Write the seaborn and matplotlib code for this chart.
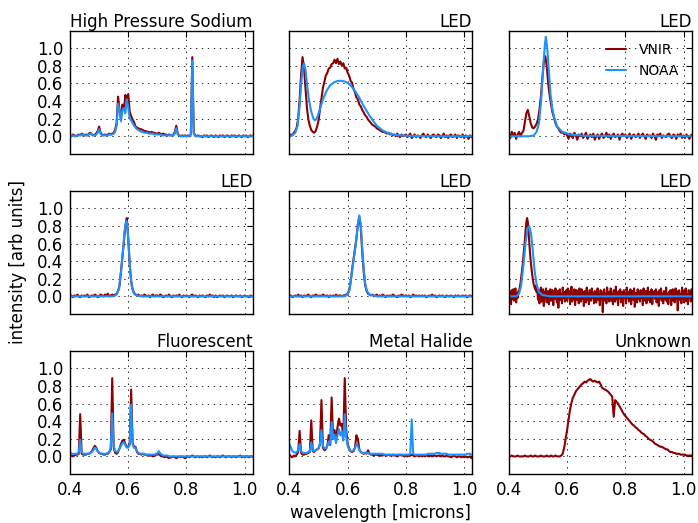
import numpy as np
import matplotlib
matplotlib.use("Agg")
import matplotlib.pyplot as plt
import seaborn as sns

# ---------------------------------------------------------------------------
# Spectra (normalised intensity, arbitrary units)
# VNIR spectra are sampled every 5 nm from 0.400 to 1.030 microns; the noisy
# blue LED (middle right) is kept at its native 2.5 nm sampling.
# ---------------------------------------------------------------------------
wavelength_grid = np.round(np.arange(0.400, 1.0301, 0.005), 3)
fine_grid = np.round(np.arange(0.400, 1.0301, 0.0025), 4)

titles = ["High Pressure Sodium", "LED", "LED",
          "LED", "LED", "LED",
          "Fluorescent", "Metal Halide", "Unknown"]
series_names = ["VNIR", "NOAA"]
x_ticks = [0.4, 0.6, 0.8, 1.0]
y_ticks = [0.0, 0.2, 0.4, 0.6, 0.8, 1.0]

hps_vnir = [
    0.01, 0.00, 0.02, 0.01, 0.00, 0.01, 0.02, 0.01, 0.03, 0.02,
    0.01, 0.02, 0.01, 0.03, 0.04, 0.02, 0.01, 0.02, 0.03, 0.06,
    0.11, 0.04, 0.02, 0.01, 0.02, 0.01, 0.02, 0.03, 0.02, 0.03,
    0.04, 0.07, 0.15, 0.45, 0.30, 0.20, 0.36, 0.30, 0.47, 0.42,
    0.48, 0.28, 0.23, 0.19, 0.16, 0.11, 0.10, 0.09, 0.08, 0.08,
    0.07, 0.06, 0.06, 0.05, 0.05, 0.04, 0.05, 0.04, 0.04, 0.03,
    0.03, 0.04, 0.03, 0.02, 0.03, 0.02, 0.02, 0.01, 0.02, 0.01,
    0.01, 0.02, 0.05, 0.12, 0.03, 0.01, 0.00, 0.01, 0.00, 0.01,
    0.00, 0.01, 0.00, 0.02, 0.90, 0.04, 0.01, 0.00, 0.01, 0.00,
    0.00, -0.01, 0.01, 0.00, 0.01, -0.01, 0.00, 0.01, 0.00, -0.01,
    0.01, 0.00, -0.01, 0.01, 0.00, 0.01, -0.01, 0.00, 0.01, 0.00,
    -0.01, 0.01, 0.00, 0.01, -0.01, 0.00, 0.01, 0.00, -0.01, 0.01,
    0.00, 0.01, -0.01, 0.00, 0.01, 0.00, 0.01,
]
hps_noaa = [
    0.00, 0.00, 0.01, 0.00, 0.00, 0.01, 0.01, 0.01, 0.02, 0.01,
    0.01, 0.01, 0.01, 0.02, 0.03, 0.02, 0.01, 0.01, 0.02, 0.04,
    0.08, 0.03, 0.01, 0.01, 0.01, 0.01, 0.01, 0.02, 0.02, 0.02,
    0.03, 0.05, 0.12, 0.37, 0.30, 0.17, 0.30, 0.32, 0.26, 0.42,
    0.33, 0.20, 0.18, 0.15, 0.12, 0.10, 0.08, 0.07, 0.06, 0.05,
    0.05, 0.04, 0.04, 0.04, 0.03, 0.03, 0.03, 0.03, 0.02, 0.02,
    0.02, 0.02, 0.02, 0.01, 0.01, 0.01, 0.01, 0.01, 0.01, 0.01,
    0.01, 0.01, 0.03, 0.09, 0.02, 0.01, 0.00, 0.00, 0.00, 0.00,
    0.00, 0.00, 0.00, 0.02, 0.86, 0.03, 0.00, 0.00, 0.00, 0.00,
    0.00, 0.00, 0.00, 0.00, 0.00, 0.00, 0.00, 0.00, 0.00, 0.00,
    0.00, 0.00, 0.00, 0.00, 0.00, 0.00, 0.00, 0.00, 0.00, 0.00,
    0.00, 0.00, 0.00, 0.00, 0.00, 0.00, 0.00, 0.00, 0.00, 0.00,
    0.00, 0.00, 0.00, 0.00, 0.00, 0.00, 0.00,
]

led_a_vnir = [
    -0.01, 0.02, 0.01, 0.04, 0.06, 0.10, 0.20, 0.42, 0.70, 0.90,
    0.78, 0.55, 0.33, 0.19, 0.12, 0.07, 0.05, 0.04, 0.06, 0.11,
    0.18, 0.31, 0.43, 0.55, 0.62, 0.69, 0.72, 0.77, 0.78, 0.82,
    0.83, 0.87, 0.83, 0.88, 0.82, 0.85, 0.80, 0.83, 0.77, 0.78,
    0.72, 0.69, 0.63, 0.61, 0.54, 0.50, 0.44, 0.42, 0.36, 0.34,
    0.30, 0.27, 0.24, 0.22, 0.19, 0.17, 0.15, 0.13, 0.12, 0.11,
    0.09, 0.08, 0.07, 0.06, 0.05, 0.05, 0.04, 0.03, 0.04, 0.02,
    0.03, 0.01, 0.02, 0.00, 0.03, 0.01, -0.01, 0.02, 0.00, 0.01,
    0.02, -0.01, 0.01, 0.03, -0.02, 0.00, 0.02, -0.01, 0.01, 0.00,
    -0.02, 0.01, 0.03, 0.00, -0.01, 0.02, 0.00, -0.02, 0.01, 0.02,
    0.00, -0.01, 0.02, 0.01, -0.02, 0.00, 0.03, -0.01, 0.01, -0.02,
    0.01, 0.02, -0.01, 0.00, 0.02, -0.02, 0.01, 0.00, -0.01, 0.02,
    -0.02, 0.01, 0.00, -0.03, 0.01, -0.01, 0.00,
]
led_a_noaa_wl = [0.400, 0.410, 0.420, 0.428, 0.435, 0.441, 0.446, 0.450, 0.455, 0.460,
                 0.466, 0.474, 0.482, 0.488, 0.495, 0.505, 0.515, 0.528, 0.540, 0.552,
                 0.566, 0.580, 0.592, 0.603, 0.615, 0.626, 0.638, 0.649, 0.661, 0.672,
                 0.684, 0.700, 0.718, 0.736, 0.760, 0.800, 0.900, 1.030]
led_a_noaa = [0.00, 0.01, 0.04, 0.12, 0.35, 0.62, 0.79, 0.83, 0.76, 0.60,
              0.44, 0.29, 0.20, 0.18, 0.21, 0.31, 0.42, 0.52, 0.58, 0.61,
              0.63, 0.63, 0.62, 0.60, 0.56, 0.51, 0.45, 0.38, 0.31, 0.25,
              0.19, 0.12, 0.07, 0.04, 0.015, 0.005, 0.00, 0.00]

led_b_vnir = [
    0.03, -0.02, 0.05, 0.01, 0.04, -0.03, 0.02, 0.05, 0.00, 0.04,
    0.06, 0.16, 0.26, 0.30, 0.23, 0.15, 0.10, 0.09, 0.11, 0.14,
    0.19, 0.30, 0.45, 0.66, 0.84, 0.91, 0.80, 0.60, 0.47, 0.36,
    0.27, 0.21, 0.15, 0.11, 0.09, 0.06, 0.04, 0.05, 0.02, 0.04,
    0.01, -0.03, 0.03, 0.00, -0.02, 0.04, 0.01, -0.04, 0.02, 0.00,
    0.03, -0.02, 0.01, 0.04, -0.03, 0.00, 0.02, -0.01, 0.03, -0.04,
    0.00, 0.02, -0.03, 0.01, 0.03, -0.02, 0.00, 0.04, -0.01, 0.02,
    -0.03, 0.01, 0.03, -0.01, 0.00, 0.02, -0.04, 0.01, 0.03, 0.00,
    0.02, -0.02, 0.00, 0.03, -0.03, 0.01, 0.02, -0.01, 0.00, 0.03,
    -0.02, 0.01, 0.03, 0.00, -0.03, 0.02, 0.00, 0.01, -0.02, 0.03,
    0.00, -0.04, 0.02, 0.01, 0.03, -0.02, 0.01, 0.00, -0.01, 0.02,
    0.03, 0.00, -0.02, 0.02, 0.01, -0.03, 0.02, 0.00, 0.03, -0.02,
    0.01, -0.02, 0.02, 0.00, -0.03, 0.01, 0.02,
]
led_b_noaa_wl = [0.400, 0.470, 0.486, 0.495, 0.503, 0.511, 0.518, 0.524, 0.527, 0.532,
                 0.538, 0.543, 0.549, 0.555, 0.566, 0.583, 0.610, 0.660, 1.030]
led_b_noaa = [0.00, 0.00, 0.01, 0.05, 0.14, 0.41, 0.79, 1.05, 1.13, 1.00,
              0.71, 0.48, 0.32, 0.22, 0.11, 0.05, 0.02, 0.005, 0.00]

led_c_vnir = [
    0.00, 0.01, -0.01, 0.01, 0.00, 0.02, 0.00, -0.01, 0.01, 0.00,
    0.01, 0.00, 0.02, -0.01, 0.00, 0.01, 0.00, 0.02, 0.01, -0.01,
    0.00, 0.02, 0.01, 0.00, 0.02, 0.01, 0.03, 0.00, 0.01, 0.02,
    0.01, 0.02, 0.03, 0.06, 0.12, 0.28, 0.45, 0.62, 0.80, 0.89,
    0.65, 0.36, 0.17, 0.08, 0.04, 0.02, 0.01, 0.02, 0.00, 0.01,
    0.00, 0.02, 0.01, 0.00, 0.01, -0.01, 0.01, 0.02, 0.00, 0.01,
    0.01, 0.00, 0.02, 0.01, -0.01, 0.00, 0.01, 0.00, 0.02, 0.00,
    -0.01, 0.01, 0.00, 0.01, 0.00, 0.02, 0.00, -0.01, 0.01, 0.00,
    0.01, 0.00, -0.01, 0.01, 0.02, 0.00, 0.01, 0.00, -0.01, 0.01,
    0.00, 0.01, 0.00, -0.01, 0.01, 0.00, 0.02, 0.00, 0.01, -0.01,
    0.01, -0.01, 0.00, 0.01, 0.00, 0.01, -0.01, 0.00, 0.01, 0.00,
    0.00, 0.01, -0.01, 0.00, 0.01, 0.00, 0.00, 0.01, -0.01, 0.00,
    0.01, 0.00, 0.00, -0.01, 0.01, 0.00, 0.00,
]
led_c_noaa_wl = [0.400, 0.550, 0.560, 0.568, 0.575, 0.582, 0.588, 0.593, 0.597, 0.602,
                 0.607, 0.612, 0.618, 0.628, 0.650, 1.030]
led_c_noaa = [0.00, 0.00, 0.02, 0.08, 0.27, 0.52, 0.76, 0.86, 0.82, 0.55,
              0.28, 0.12, 0.04, 0.01, 0.00, 0.00]

led_d_vnir = [
    0.00, 0.01, -0.01, 0.00, 0.01, 0.00, 0.02, 0.00, 0.01, -0.01,
    0.01, 0.00, 0.01, 0.02, 0.00, -0.01, 0.01, 0.00, 0.02, 0.01,
    0.00, 0.01, 0.00, 0.02, 0.01, 0.00, 0.01, -0.01, 0.01, 0.00,
    0.01, 0.00, 0.02, 0.00, 0.01, 0.01, 0.00, 0.01, 0.01, 0.02,
    0.03, 0.07, 0.16, 0.30, 0.42, 0.54, 0.66, 0.82, 0.90, 0.78,
    0.50, 0.28, 0.13, 0.06, 0.03, 0.02, 0.01, 0.02, 0.00, 0.01,
    0.02, 0.00, 0.01, 0.00, 0.02, 0.01, -0.01, 0.01, 0.00, 0.01,
    0.00, 0.02, 0.01, 0.00, -0.01, 0.01, 0.00, 0.02, 0.01, 0.00,
    0.01, 0.00, 0.01, -0.01, 0.00, 0.02, 0.00, 0.01, 0.00, 0.01,
    0.00, 0.01, 0.00, 0.01, -0.01, 0.00, 0.01, 0.00, 0.02, 0.00,
    0.01, -0.01, 0.00, 0.01, 0.00, 0.01, 0.00, -0.01, 0.01, 0.00,
    0.00, 0.01, 0.00, -0.01, 0.01, 0.00, 0.01, 0.00, 0.00, 0.01,
    0.00, 0.01, -0.01, 0.00, 0.01, 0.00, 0.01,
]
led_d_noaa_wl = [0.400, 0.590, 0.600, 0.607, 0.615, 0.622, 0.629, 0.635, 0.640, 0.645,
                 0.650, 0.655, 0.660, 0.666, 0.675, 0.700, 1.030]
led_d_noaa = [0.00, 0.00, 0.02, 0.08, 0.28, 0.45, 0.62, 0.82, 0.92, 0.82,
              0.56, 0.32, 0.15, 0.06, 0.02, 0.00, 0.00]

# 2.5 nm sampling, 20 values per 0.05 micron row
led_e_vnir = [
    0.02, -0.06, 0.05, -0.09, 0.07, -0.03, 0.08, -0.05, 0.03, 0.09,
    -0.07, 0.04, -0.02, 0.06, 0.06, 0.10, 0.15, 0.22, 0.28, 0.36,
    0.45, 0.53, 0.64, 0.75, 0.84, 0.89, 0.85, 0.74, 0.62, 0.50,
    0.40, 0.32, 0.25, 0.19, 0.14, 0.11, 0.08, 0.12, 0.05, 0.09,
    -0.04, 0.07, -0.08, 0.03, 0.10, -0.06, 0.01, 0.08, -0.11, 0.05,
    -0.02, 0.09, -0.07, 0.04, 0.06, -0.09, 0.02, 0.08, -0.05, 0.03,
    0.07, -0.10, 0.04, -0.03, 0.09, 0.01, -0.07, 0.06, -0.13, 0.05,
    0.08, -0.04, 0.02, -0.08, 0.10, -0.02, 0.05, -0.06, 0.03, 0.07,
    -0.05, 0.09, -0.01, 0.06, -0.09, 0.03, 0.11, -0.06, 0.04, -0.03,
    0.08, -0.10, 0.02, 0.07, -0.04, 0.05, -0.08, 0.09, 0.00, -0.06,
    0.08, -0.03, 0.05, -0.11, 0.06, 0.02, -0.07, 0.10, -0.04, 0.03,
    -0.09, 0.07, 0.01, -0.05, 0.09, -0.02, 0.04, -0.08, 0.06, 0.03,
    -0.07, 0.05, 0.09, -0.04, 0.02, -0.10, 0.07, -0.01, 0.04, -0.18,
    0.06, 0.08, -0.05, 0.03, -0.08, 0.10, -0.03, 0.05, -0.06, 0.02,
    0.09, -0.05, 0.03, -0.09, 0.07, 0.01, -0.06, 0.11, -0.03, 0.04,
    -0.10, 0.06, -0.02, 0.08, -0.07, 0.03, 0.05, -0.11, 0.07, -0.01,
    0.04, -0.08, 0.10, -0.02, 0.05, -0.06, 0.02, 0.08, -0.09, 0.03,
    0.06, -0.04, 0.09, -0.12, 0.04, 0.01, -0.07, 0.08, -0.03, 0.05,
    -0.06, 0.07, -0.02, 0.04, -0.10, 0.09, 0.02, -0.05, 0.06, -0.08,
    0.03, 0.10, -0.04, 0.05, -0.07, 0.02, 0.08, -0.09, 0.04, -0.01,
    0.06, -0.03, 0.08, -0.07, 0.02, 0.05, -0.11, 0.07, -0.02, 0.09,
    -0.05, 0.03, -0.08, 0.06, 0.01, -0.04, 0.10, -0.06, 0.03, -0.09,
    0.05, -0.02, 0.07, -0.10, 0.04, 0.08, -0.05, 0.02, -0.07, 0.09,
    -0.03, 0.06, -0.16, 0.04, 0.07, -0.04, 0.02, -0.08, 0.10, -0.03,
    0.06, -0.07, 0.03, 0.09, -0.05, 0.02, -0.09, 0.07, -0.02, 0.05,
    -0.06, 0.08, 0.01,
]
led_e_noaa_wl = [0.400, 0.425, 0.435, 0.442, 0.450, 0.457, 0.464, 0.470, 0.476, 0.482,
                 0.488, 0.495, 0.503, 0.515, 0.540, 1.030]
led_e_noaa = [0.00, 0.00, 0.03, 0.12, 0.35, 0.60, 0.76, 0.80, 0.72, 0.52,
              0.30, 0.14, 0.05, 0.015, 0.00, 0.00]

fluor_vnir = [
    0.00, 0.01, 0.00, 0.01, 0.02, 0.02, 0.03, 0.48, 0.03, 0.02,
    0.02, 0.02, 0.03, 0.03, 0.04, 0.06, 0.09, 0.12, 0.10, 0.06,
    0.04, 0.03, 0.03, 0.02, 0.02, 0.03, 0.03, 0.05, 0.08, 0.89,
    0.10, 0.04, 0.03, 0.05, 0.09, 0.14, 0.18, 0.19, 0.14, 0.11,
    0.11, 0.14, 0.76, 0.16, 0.10, 0.11, 0.05, 0.03, 0.03, 0.02,
    0.03, 0.02, 0.02, 0.01, 0.02, 0.01, 0.01, 0.00, 0.01, 0.02,
    0.02, 0.03, 0.01, 0.00, 0.00, -0.01, 0.00, -0.01, -0.02, -0.01,
    -0.01, 0.00, -0.01, -0.02, -0.01, 0.00, -0.01, 0.00, -0.01, -0.02,
    -0.01, 0.00, -0.01, 0.00, 0.01, 0.00, -0.01, 0.00, 0.00, -0.01,
    0.00, -0.01, 0.00, 0.00, -0.01, 0.00, 0.01, 0.00, -0.01, 0.00,
    -0.01, 0.00, 0.00, -0.01, 0.00, 0.01, 0.00, -0.01, 0.00, 0.00,
    0.00, -0.01, 0.00, 0.00, -0.01, 0.00, 0.00, 0.01, -0.01, 0.00,
    -0.01, 0.00, 0.00, -0.01, 0.00, 0.00, -0.01,
]
fluor_noaa = [
    0.05, 0.03, 0.03, 0.03, 0.03, 0.03, 0.05, 0.19, 0.05, 0.03,
    0.03, 0.03, 0.03, 0.03, 0.04, 0.05, 0.07, 0.10, 0.09, 0.06,
    0.04, 0.03, 0.03, 0.03, 0.03, 0.03, 0.04, 0.05, 0.10, 0.49,
    0.12, 0.06, 0.05, 0.06, 0.09, 0.12, 0.15, 0.16, 0.13, 0.10,
    0.10, 0.13, 0.59, 0.14, 0.10, 0.10, 0.06, 0.04, 0.03, 0.03,
    0.03, 0.03, 0.02, 0.02, 0.02, 0.02, 0.02, 0.02, 0.02, 0.03,
    0.03, 0.06, 0.03, 0.02, 0.01, 0.01, 0.01, 0.01, 0.00, 0.00,
    0.00, 0.00, 0.00, 0.00, 0.00, 0.00, 0.00, 0.00, 0.00, 0.00,
    0.00, 0.00, 0.00, 0.00, 0.00, 0.00, 0.00, 0.00, 0.00, 0.00,
    0.00, 0.00, 0.00, 0.00, 0.00, 0.00, 0.00, 0.00, 0.00, 0.00,
    0.00, 0.00, 0.00, 0.00, 0.00, 0.00, 0.00, 0.00, 0.00, 0.00,
    0.00, 0.00, 0.00, 0.00, 0.00, 0.00, 0.00, 0.00, 0.00, 0.00,
    0.00, 0.00, 0.00, 0.00, 0.00, 0.00, 0.00,
]

halide_vnir = [
    0.02, 0.00, -0.01, 0.01, 0.00, 0.02, 0.05, 0.29, 0.04, 0.02,
    0.02, 0.03, 0.03, 0.04, 0.05, 0.41, 0.06, 0.05, 0.07, 0.08,
    0.09, 0.14, 0.64, 0.10, 0.07, 0.08, 0.12, 0.24, 0.13, 0.67,
    0.20, 0.30, 0.18, 0.33, 0.43, 0.35, 0.37, 0.22, 0.89, 0.30,
    0.14, 0.09, 0.06, 0.05, 0.06, 0.10, 0.24, 0.20, 0.08, 0.05,
    0.04, 0.03, 0.04, 0.03, 0.07, 0.03, 0.02, 0.02, 0.01, 0.02,
    0.02, 0.01, 0.02, 0.01, 0.01, 0.02, 0.01, 0.01, 0.02, 0.01,
    0.01, 0.02, 0.01, 0.01, 0.00, 0.01, 0.02, 0.01, 0.01, 0.00,
    0.01, 0.00, 0.01, 0.01, 0.02, 0.01, 0.00, 0.01, 0.01, 0.00,
    0.01, 0.00, 0.01, 0.00, 0.01, 0.01, 0.00, 0.01, 0.00, 0.01,
    0.01, 0.00, 0.01, 0.01, 0.00, 0.01, 0.00, 0.00, 0.01, 0.00,
    0.00, -0.01, 0.00, 0.01, 0.00, -0.01, 0.00, 0.00, -0.01, 0.00,
    -0.01, 0.00, -0.01, -0.01, 0.00, -0.02, -0.01,
]
halide_noaa = [
    0.14, 0.10, 0.06, 0.05, 0.04, 0.05, 0.07, 0.14, 0.06, 0.04,
    0.04, 0.04, 0.04, 0.05, 0.06, 0.16, 0.07, 0.06, 0.07, 0.08,
    0.09, 0.15, 0.30, 0.12, 0.09, 0.09, 0.12, 0.17, 0.14, 0.39,
    0.20, 0.25, 0.15, 0.24, 0.31, 0.24, 0.28, 0.18, 0.48, 0.22,
    0.12, 0.08, 0.06, 0.06, 0.07, 0.09, 0.14, 0.12, 0.07, 0.05,
    0.04, 0.04, 0.04, 0.04, 0.04, 0.03, 0.03, 0.03, 0.03, 0.03,
    0.03, 0.03, 0.03, 0.03, 0.03, 0.02, 0.02, 0.02, 0.02, 0.02,
    0.02, 0.02, 0.02, 0.02, 0.02, 0.02, 0.02, 0.02, 0.02, 0.02,
    0.02, 0.02, 0.02, 0.03, 0.42, 0.03, 0.02, 0.02, 0.02, 0.02,
    0.02, 0.02, 0.02, 0.02, 0.02, 0.03, 0.03, 0.03, 0.03, 0.03,
    0.03, 0.04, 0.04, 0.04, 0.03, 0.03, 0.03, 0.03, 0.03, 0.02,
    0.02, 0.02, 0.02, 0.02, 0.02, 0.02, 0.02, 0.02, 0.02, 0.02,
    0.02, 0.02, 0.03, 0.03, 0.03, 0.02, 0.02,
]

unknown_vnir = [
    0.00, 0.00, 0.01, 0.00, 0.00, 0.00, 0.01, 0.00, 0.00, 0.00,
    0.00, 0.01, 0.00, 0.00, 0.00, 0.01, 0.00, 0.00, 0.01, 0.00,
    0.00, 0.00, 0.01, 0.00, 0.00, 0.00, 0.01, 0.00, 0.00, 0.01,
    0.00, 0.00, 0.01, 0.00, 0.00, 0.00, 0.01, 0.03, 0.10, 0.20,
    0.30, 0.42, 0.53, 0.61, 0.67, 0.70, 0.74, 0.76, 0.78, 0.80,
    0.82, 0.83, 0.85, 0.84, 0.86, 0.87, 0.88, 0.86, 0.85, 0.86,
    0.85, 0.84, 0.85, 0.82, 0.78, 0.77, 0.76, 0.75, 0.74, 0.72,
    0.70, 0.68, 0.45, 0.64, 0.62, 0.60, 0.57, 0.54, 0.51, 0.48,
    0.46, 0.44, 0.42, 0.40, 0.38, 0.36, 0.35, 0.33, 0.32, 0.30,
    0.29, 0.27, 0.26, 0.25, 0.23, 0.22, 0.20, 0.19, 0.18, 0.17,
    0.15, 0.14, 0.13, 0.12, 0.11, 0.11, 0.10, 0.09, 0.08, 0.08,
    0.06, 0.05, 0.05, 0.04, 0.04, 0.03, 0.03, 0.03, 0.02, 0.02,
    0.02, 0.02, 0.01, 0.01, 0.01, 0.01, 0.01,
]

# (title, VNIR wavelengths, VNIR values, NOAA wavelengths, NOAA values)
panels = [
    (titles[0], wavelength_grid, hps_vnir, wavelength_grid, hps_noaa),
    (titles[1], wavelength_grid, led_a_vnir, led_a_noaa_wl, led_a_noaa),
    (titles[2], wavelength_grid, led_b_vnir, led_b_noaa_wl, led_b_noaa),
    (titles[3], wavelength_grid, led_c_vnir, led_c_noaa_wl, led_c_noaa),
    (titles[4], wavelength_grid, led_d_vnir, led_d_noaa_wl, led_d_noaa),
    (titles[5], fine_grid, led_e_vnir, led_e_noaa_wl, led_e_noaa),
    (titles[6], wavelength_grid, fluor_vnir, wavelength_grid, fluor_noaa),
    (titles[7], wavelength_grid, halide_vnir, wavelength_grid, halide_noaa),
    (titles[8], wavelength_grid, unknown_vnir, None, None),
]

VNIR_COLOR = "#8B0000"
NOAA_COLOR = "#1E90FF"

sns.set_theme(style="white")
plt.rcParams.update({
    "font.family": ["DejaVu Sans"],
    "font.size": 12,
    "axes.titlesize": 12,
    "axes.labelsize": 12,
    "xtick.labelsize": 12,
    "ytick.labelsize": 12,
    "legend.fontsize": 10,
    "text.color": "black",
    "axes.labelcolor": "black",
    "axes.edgecolor": "black",
    "axes.linewidth": 1.0,
    "xtick.color": "black",
    "ytick.color": "black",
    "lines.scale_dashes": False,
})

fig, axes = plt.subplots(3, 3, figsize=(6.98, 5.23), dpi=100,
                         sharex=True, sharey=True)
fig.subplots_adjust(left=0.1003, right=0.991, top=0.9413, bottom=0.0937,
                    wspace=0.2, hspace=0.30)

for idx, (ax, (title, vx, vnir, nx, noaa)) in enumerate(zip(axes.flat, panels)):
    assert len(vnir) == len(vx), (title, len(vnir))
    with_legend = idx == 2
    sns.lineplot(x=np.asarray(vx), y=np.asarray(vnir), ax=ax,
                 color=VNIR_COLOR, lw=1.5,
                 label=series_names[0] if with_legend else None)
    if noaa is not None:
        assert len(nx) == len(noaa), (title, len(noaa))
        sns.lineplot(x=np.asarray(nx), y=np.asarray(noaa), ax=ax,
                     color=NOAA_COLOR, lw=1.5,
                     label=series_names[1] if with_legend else None)

    ax.set_xlim(0.4, 1.028)
    ax.set_ylim(-0.2, 1.2)
    ax.set_xticks(x_ticks)
    ax.set_yticks(y_ticks)
    ax.set_xlabel("")
    ax.set_ylabel("")
    ax.grid(True, color="black", linestyle=(0, (1, 3.3)), linewidth=0.6)
    ax.tick_params(which="major", direction="in", top=True, right=True,
                   length=4, width=0.8, pad=5)
    ax.set_title(title, loc="right", pad=3)
    for spine in ax.spines.values():
        spine.set_linewidth(1.0)
        spine.set_color("black")

axes[0, 2].legend(loc="upper right", frameon=False, fontsize=10,
                  handlelength=1.5, handletextpad=0.9)
axes[2, 1].set_xlabel("wavelength [microns]")
fig.text(0.026, 0.50, "intensity [arb units]", rotation=90,
         ha="center", va="center", fontsize=12)

fig.savefig("out.png", dpi=100, facecolor="white")
